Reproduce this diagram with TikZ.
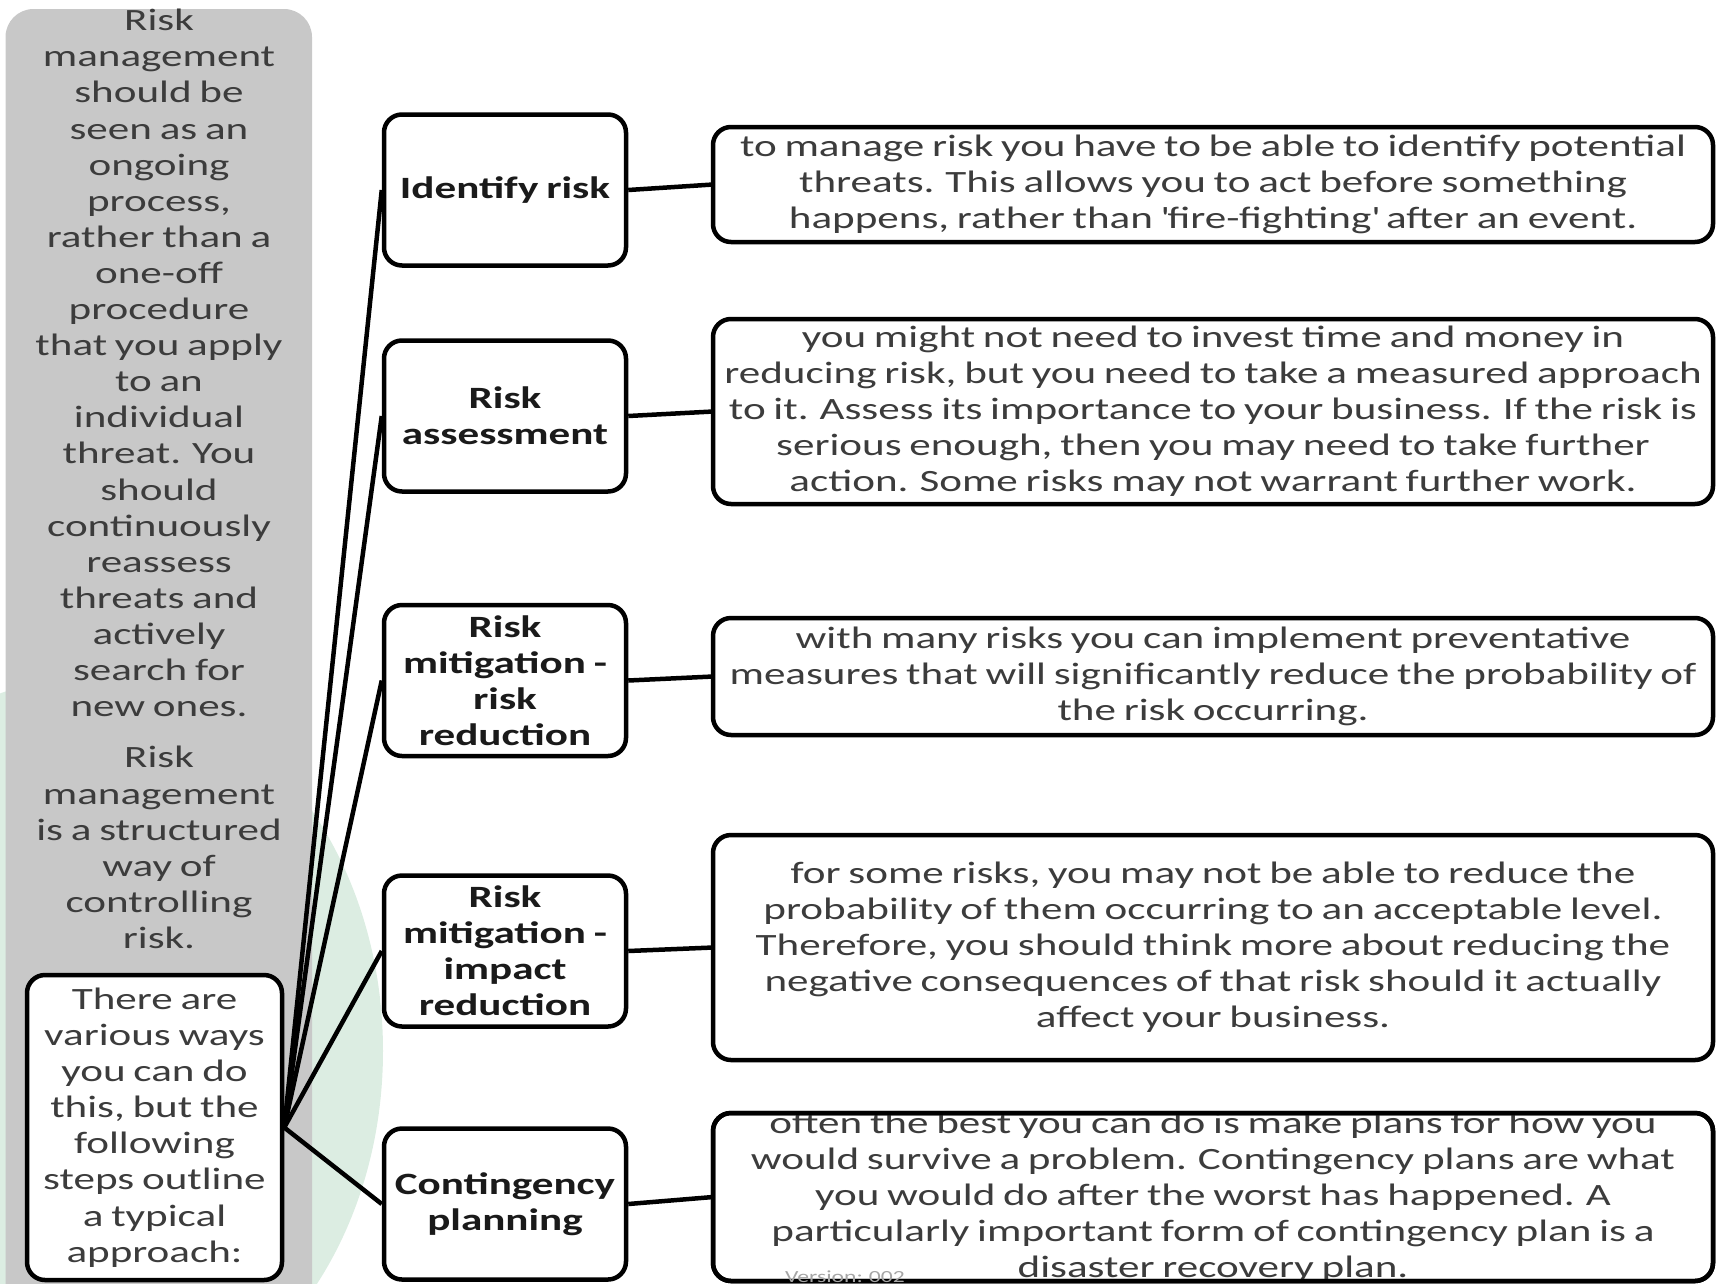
\documentclass[tikz,border=0pt]{standalone}
\usepackage{fontspec}
\setmainfont{Carlito}[FakeStretch=1.39, WordSpace=0.8]
\definecolor{panelgray}{HTML}{C8C8C8}
\definecolor{mintbg}{HTML}{DCEDE2}
\definecolor{textgray}{HTML}{3C3C3C}
\definecolor{labelblack}{HTML}{1A1A1A}
\begin{document}
\begin{tikzpicture}[x=1pt,y=-1pt]
\tikzset{
  every node/.style={font=\fontsize{31pt}{36.1pt}\selectfont, align=center, inner sep=0pt},
  stepbox/.style={draw=black, line width=4.5pt, rounded corners=18pt, fill=white, minimum width=242pt, minimum height=151pt, font=\bfseries\fontsize{31pt}{36.1pt}\selectfont, text=labelblack},
  descbox/.style={draw=black, line width=4.5pt, rounded corners=18pt, fill=white, outer sep=0pt, minimum width=1000pt, text=textgray},
  link/.style={draw=black, line width=4.5pt}
}
\useasboundingbox (0,0) rectangle (1716,1283);
% background
\fill [mintbg] (83,1051) ellipse [x radius=300pt, y radius=372pt];
\fill [panelgray, rounded corners=28pt] (5.5,9) rectangle (312,1330);
% left panel
\node [text=textgray] (gpA) at (159,363) {Risk\\management\\should be\\seen as an\\ongoing\\process,\\rather than a\\one-off\\procedure\\that you apply\\to an\\individual\\threat. You\\should\\continuously\\reassess\\threats and\\actively\\search for\\new ones.};
\node [text=textgray] (gpB) at (159,847.5) {Risk\\management\\is a structured\\way of\\controlling\\risk.};
\node [draw=black, line width=4.5pt, rounded corners=18pt, fill=white, minimum width=255pt, minimum height=305pt, text=textgray] (ibox) at (154.5,1127.5) {There are\\various ways\\you can do\\this, but the\\following\\steps outline\\a typical\\approach:};
% steps
\node [stepbox] (s1) at (505,190) {Identify risk};
\node [stepbox] (s2) at (505,416) {Risk\\assessment};
\node [stepbox] (s3) at (505,680.5) {Risk\\mitigation -\\risk\\reduction};
\node [stepbox] (s4) at (505,951) {Risk\\mitigation -\\impact\\reduction};
\node [stepbox] (s5) at (505,1204) {Contingency\\planning};
% descriptions
\node [descbox, minimum height=115pt] (d1) at (1213,184.5) {to manage risk you have to be able to identify potential\\threats. This allows you to act before something\\happens, rather than \textquotesingle fire-fighting\textquotesingle\ after an event.};
\node [descbox, minimum height=185pt] (d2) at (1213,411.5) {you might not need to invest time and money in\\reducing risk, but you need to take a measured approach\\to it. Assess its importance to your business. If the risk is\\serious enough, then you may need to take further\\action. Some risks may not warrant further work.};
\node [descbox, minimum height=117pt] (d3) at (1213,676.5) {with many risks you can implement preventative\\measures that will significantly reduce the probability of\\the risk occurring.};
\node [descbox, minimum height=225pt] (d4) at (1213,947.5) {for some risks, you may not be able to reduce the\\probability of them occurring to an acceptable level.\\Therefore, you should think more about reducing the\\negative consequences of that risk should it actually\\affect your business.};
\node [descbox, minimum height=168pt] (d5) at (1213,1197) {};
\begin{scope}
\clip (d5.south west) rectangle (d5.north east);
\node [text=textgray] (d5txt) at (1213,1197.5) {often the best you can do is make plans for how you\\would survive a problem. Contingency plans are what\\you would do after the worst has happened. A\\particularly important form of contingency plan is a\\disaster recovery plan.};
\end{scope}
\draw [line width=4.5pt, rounded corners=18pt] (d5.south west) rectangle (d5.north east);
\node [font=\fontsize{17pt}{20pt}\selectfont, text=black!35, anchor=base] (ver) at (845,1282) {Version: 002};
% connectors
\draw [link] (ibox.east) -- (s1.west);
\draw [link] (ibox.east) -- (s2.west);
\draw [link] (ibox.east) -- (s3.west);
\draw [link] (ibox.east) -- (s4.west);
\draw [link] (ibox.east) -- (s5.west);
\draw [link] (s1.east) -- (d1.west);
\draw [link] (s2.east) -- (d2.west);
\draw [link] (s3.east) -- (d3.west);
\draw [link] (s4.east) -- (d4.west);
\draw [link] (s5.east) -- (d5.west);
\end{tikzpicture}
\end{document}
